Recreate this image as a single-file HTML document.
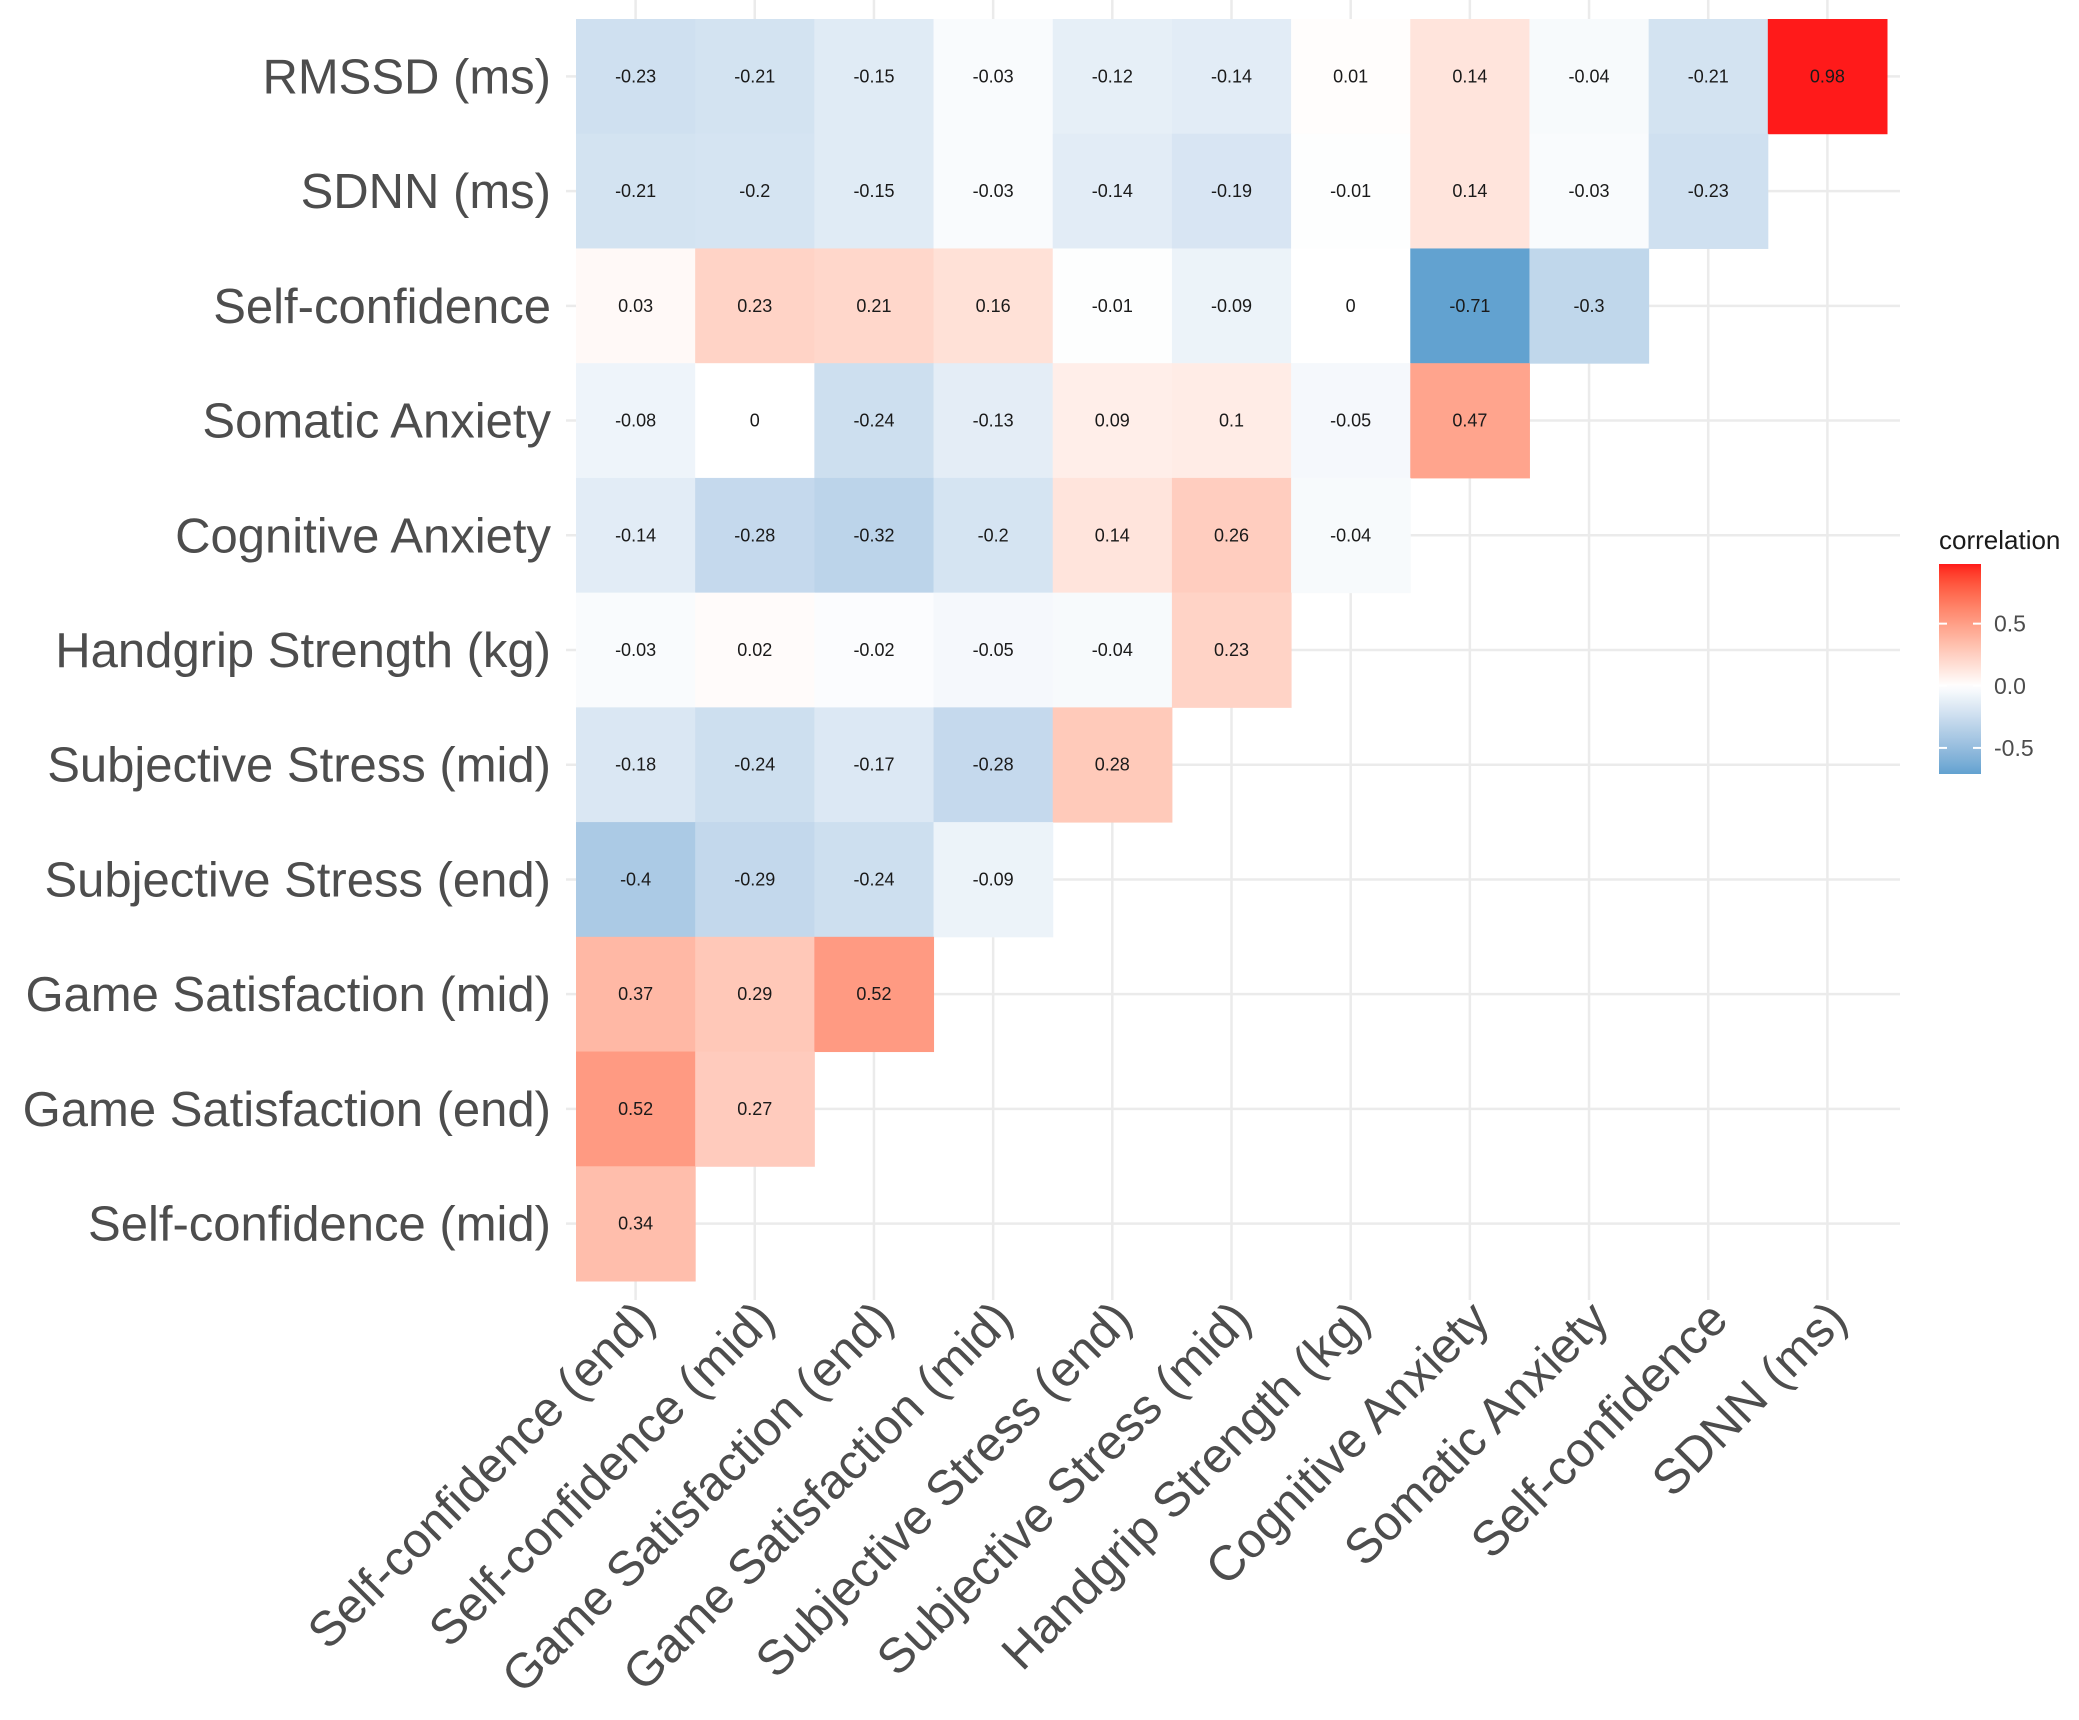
<!DOCTYPE html>
<html><head><meta charset="utf-8"><style>
html,body{margin:0;padding:0;background:#fff;}
svg{display:block;font-family:"Liberation Sans",sans-serif;}
</style></head><body>
<svg id="chart" width="2079" height="1720" viewBox="0 0 2079 1720" xmlns="http://www.w3.org/2000/svg">
<g id="grid"></g>
<g id="tiles"></g>
<g id="ylab"></g>
<g id="xlab"></g>
<g id="legend"></g>
</svg>
<script>
const rowLabels = ["RMSSD (ms)","SDNN (ms)","Self-confidence","Somatic Anxiety","Cognitive Anxiety","Handgrip Strength (kg)","Subjective Stress (mid)","Subjective Stress (end)","Game Satisfaction (mid)","Game Satisfaction (end)","Self-confidence (mid)"];
const colLabels = ["Self-confidence (end)","Self-confidence (mid)","Game Satisfaction (end)","Game Satisfaction (mid)","Subjective Stress (end)","Subjective Stress (mid)","Handgrip Strength (kg)","Cognitive Anxiety","Somatic Anxiety","Self-confidence","SDNN (ms)"];
const row0 = [-0.23,-0.21,-0.15,-0.03,-0.12,-0.14,0.01,0.14,-0.04,-0.21,0.98];
const row1 = [-0.21,-0.2,-0.15,-0.03,-0.14,-0.19,-0.01,0.14,-0.03,-0.23];
const row2 = [0.03,0.23,0.21,0.16,-0.01,-0.09,0,-0.71,-0.3];
const row3 = [-0.08,0,-0.24,-0.13,0.09,0.1,-0.05,0.47];
const row4 = [-0.14,-0.28,-0.32,-0.2,0.14,0.26,-0.04];
const row5 = [-0.03,0.02,-0.02,-0.05,-0.04,0.23];
const row6 = [-0.18,-0.24,-0.17,-0.28,0.28];
const row7 = [-0.4,-0.29,-0.24,-0.09];
const row8 = [0.37,0.29,0.52];
const row9 = [0.52,0.27];
const row10 = [0.34];
const legendTicks = [0.5,0.0,-0.5];
const legendTickLabels = ["0.5","0.0","-0.5"];
const fillMin = -0.71, fillMax = 0.98;

const rows=[row0,row1,row2,row3,row4,row5,row6,row7,row8,row9,row10];
const NS="http://www.w3.org/2000/svg";
const L=576,R=1887,T=19,B=1281;
const cw=(R-L)/colLabels.length, rh=(B-T)/rowLabels.length;
const xPos=i=>L+i*cw, yPos=j=>T+j*rh;
function s2l(c){c/=255;return c<=0.04045?c/12.92:Math.pow((c+0.055)/1.055,2.4);}
function l2s(c){c=c<=0.0031308?12.92*c:1.055*Math.pow(c,1/2.4)-0.055;return Math.round(Math.max(0,Math.min(1,c))*255);}
function toLab(rgb){
  const [r,g,b]=rgb.map(s2l);
  let x=(0.4124*r+0.3576*g+0.1805*b)/0.95047,y=0.2126*r+0.7152*g+0.0722*b,z=(0.0193*r+0.1192*g+0.9505*b)/1.08883;
  const f=t=>t>0.008856?Math.cbrt(t):7.787*t+16/116;
  const fx=f(x),fy=f(y),fz=f(z);
  return [116*fy-16,500*(fx-fy),200*(fy-fz)];
}
function fromLab(lab){
  const fy=(lab[0]+16)/116,fx=fy+lab[1]/500,fz=fy-lab[2]/200;
  const fi=t=>t*t*t>0.008856?t*t*t:(t-16/116)/7.787;
  const x=fi(fx)*0.95047,y=fi(fy),z=fi(fz)*1.08883;
  const r=3.2406*x-1.5372*y-0.4986*z,g=-0.9689*x+1.8758*y+0.0415*z,b=0.0557*x-0.2040*y+1.0570*z;
  return [l2s(r),l2s(g),l2s(b)];
}
const labW=toLab([255,255,255]),labR=toLab([255,26,26]),labB=toLab([98,162,208]);
function col(v){
  let c,t;
  if(v>=0){t=v/fillMax;c=labR;}else{t=v/fillMin;c=labB;}
  t=Math.max(0,Math.min(1,t));
  const m=fromLab([0,1,2].map(k=>labW[k]+(c[k]-labW[k])*t));
  return `rgb(${m[0]},${m[1]},${m[2]})`;
}
function mk(tag,attrs,parent){const e=document.createElementNS(NS,tag);for(const k in attrs)e.setAttribute(k,attrs[k]);parent.appendChild(e);return e;}
const grid=document.getElementById('grid');
for(let i=0;i<colLabels.length;i++){
  const cx=xPos(i)+cw/2;
  const g=mk('line',{x1:cx,x2:cx,y1:0,y2:1293,stroke:'#ebebeb','stroke-width':2.5},grid);
  
  
  const tk=mk('line',{x1:cx,x2:cx,y1:1293,y2:1300,stroke:'#ebebeb','stroke-width':2.5},grid);
  
  
}
for(let j=0;j<rowLabels.length;j++){
  const cy=yPos(j)+rh/2;
  const g=mk('line',{x1:566,x2:1900,y1:cy,y2:cy,stroke:'#ebebeb','stroke-width':2.5},grid);
  
  
}
const tiles=document.getElementById('tiles');
rows.forEach((r,j)=>{
  r.forEach((v,i)=>{
    const rect=mk('rect',{x:xPos(i),y:yPos(j),width:cw+0.5,height:rh+0.5,fill:col(v)},tiles);
    
    
    const t=mk('text',{x:xPos(i)+cw/2,y:yPos(j)+rh/2+6,'text-anchor':'middle','font-size':18,fill:'#1a1a1a'},tiles);
    t.textContent=String(v);
    
    
  });
});
const ylab=document.getElementById('ylab');
rowLabels.forEach((s,j)=>{
  const t=mk('text',{x:551,y:yPos(j)+rh/2+17,'text-anchor':'end','font-size':49,fill:'#4d4d4d'},ylab);
  t.textContent=s;
  
  
});
const xlab=document.getElementById('xlab');
colLabels.forEach((s,i)=>{
  const ax=xPos(i)+cw/2+22, ay=1322;
  const t=mk('text',{x:ax,y:ay,'text-anchor':'end','font-size':49,fill:'#4d4d4d',transform:`rotate(-45 ${ax} ${ay})`},xlab);
  t.textContent=s;
  
  
});
const lg=document.getElementById('legend');
const defs=mk('defs',{},lg);
const grad=mk('linearGradient',{id:'lgGrad',x1:0,y1:0,x2:0,y2:1},defs);
for(let k=0;k<=40;k++){
  const v=fillMax+(fillMin-fillMax)*k/40;
  mk('stop',{offset:(k/40),'stop-color':col(v)},grad);
}
const lt=mk('text',{x:1939,y:549,'font-size':26,fill:'#1a1a1a'},lg);
lt.textContent='correlation';


const bTop=564,bBot=774,bx=1939,bw=42;
const lScale=v=>bTop+(fillMax-v)/(fillMax-fillMin)*(bBot-bTop);
const bar=mk('rect',{x:bx,y:bTop,width:bw,height:bBot-bTop,fill:'url(#lgGrad)'},lg);


legendTicks.forEach((v,k)=>{
  const y=lScale(v);
  mk('line',{x1:bx,x2:bx+8,y1:y,y2:y,stroke:'#fff','stroke-width':2},lg);
  mk('line',{x1:bx+bw-8,x2:bx+bw,y1:y,y2:y,stroke:'#fff','stroke-width':2},lg);
  const t=mk('text',{x:1994,y:y+8,'font-size':23,fill:'#4d4d4d'},lg);
  t.textContent=legendTickLabels[k];
  
  
});
</script>
</body></html>
